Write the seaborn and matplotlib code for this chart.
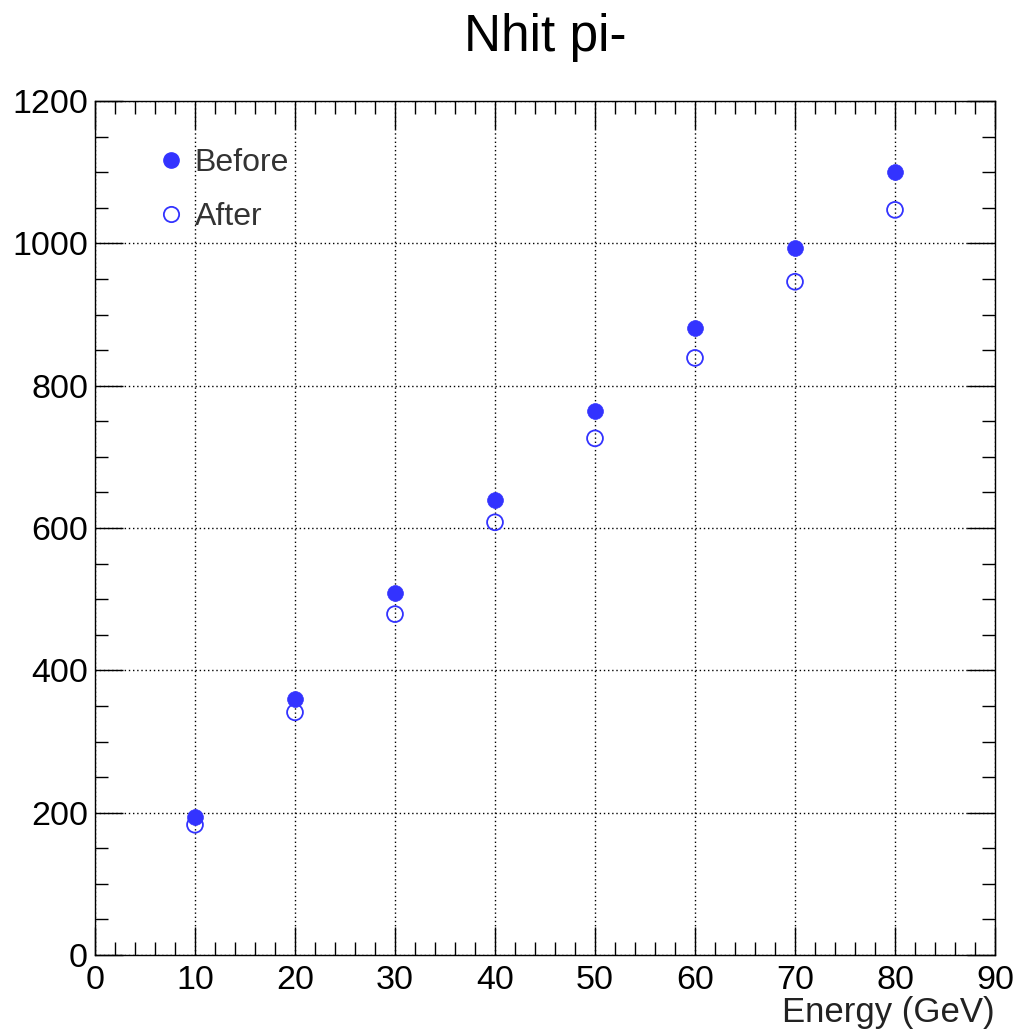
import matplotlib
matplotlib.use("Agg")
import matplotlib.pyplot as plt
import seaborn as sns
import pandas as pd
from matplotlib.ticker import MultipleLocator
from matplotlib.lines import Line2D

energy = [10, 20, 30, 40, 50, 60, 70, 80]
nhit_before = [194, 360, 509, 639, 764, 881, 993, 1100]
nhit_after = [183, 341, 479, 608, 726, 839, 946, 1047]
title = "Nhit pi-"
xlabel = "Energy (GeV)"
labels = ["Before", "After"]

sns.set_style("white")
plt.rcParams['font.family'] = ['Liberation Sans', 'DejaVu Sans']
plt.rcParams['text.color'] = 'black'
plt.rcParams['xtick.color'] = 'black'
plt.rcParams['ytick.color'] = 'black'
plt.rcParams['axes.labelcolor'] = 'black'

color = "#3333ff"
fig = plt.figure(figsize=(10.2, 10.35), dpi=100)
ax = fig.add_axes([95/1020, 80/1035, 900/1020, 854/1035])

df_b = pd.DataFrame({"E": energy, "N": nhit_before})
df_a = pd.DataFrame({"E": energy, "N": nhit_after})

sns.scatterplot(data=df_b, x="E", y="N", ax=ax, marker="o", s=130,
                color=color, edgecolor=color, linewidth=0.5, zorder=4)
sns.scatterplot(data=df_a, x="E", y="N", ax=ax, marker="o", s=130,
                facecolors="none", edgecolor=color, linewidth=1.3, zorder=4)

ax.set_xlim(0, 90)
ax.set_ylim(0, 1200)
ax.xaxis.set_major_locator(MultipleLocator(10))
ax.xaxis.set_minor_locator(MultipleLocator(2))
ax.yaxis.set_major_locator(MultipleLocator(200))
ax.yaxis.set_minor_locator(MultipleLocator(50))

ax.tick_params(which="both", direction="in", top=True, right=True,
               bottom=True, left=True, color="black", width=1.0)
ax.tick_params(which="major", length=20, labelsize=24.5, pad=7, labelcolor="black")
ax.tick_params(which="minor", length=9.5)
ax.tick_params(axis="y", which="major", pad=5)

ax.grid(True, which="major", linestyle=(0, (1, 2)), color="black", linewidth=1.0)
ax.set_axisbelow(True)
for sp in ax.spines.values():
    sp.set_color("black")
    sp.set_linewidth(1.0)

ax.set_xlabel(xlabel, loc="right", fontsize=25, labelpad=0, color="#222222")
ax.set_ylabel("")
ax.set_title(title, fontsize=37, pad=36, color="black")

handles = [
    Line2D([], [], marker="o", linestyle="none", markersize=11,
           markerfacecolor=color, markeredgecolor=color),
    Line2D([], [], marker="o", linestyle="none", markersize=11,
           markerfacecolor="none", markeredgecolor=color, markeredgewidth=1.3),
]
leg = ax.legend(handles, labels, loc="upper left", bbox_to_anchor=(0.052, 0.96),
                frameon=False, fontsize=23, labelspacing=0.75, handletextpad=0.25,
                handlelength=1.0, borderaxespad=0)
for t in leg.get_texts():
    t.set_color("#333333")

fig.savefig("out.png", dpi=100)
